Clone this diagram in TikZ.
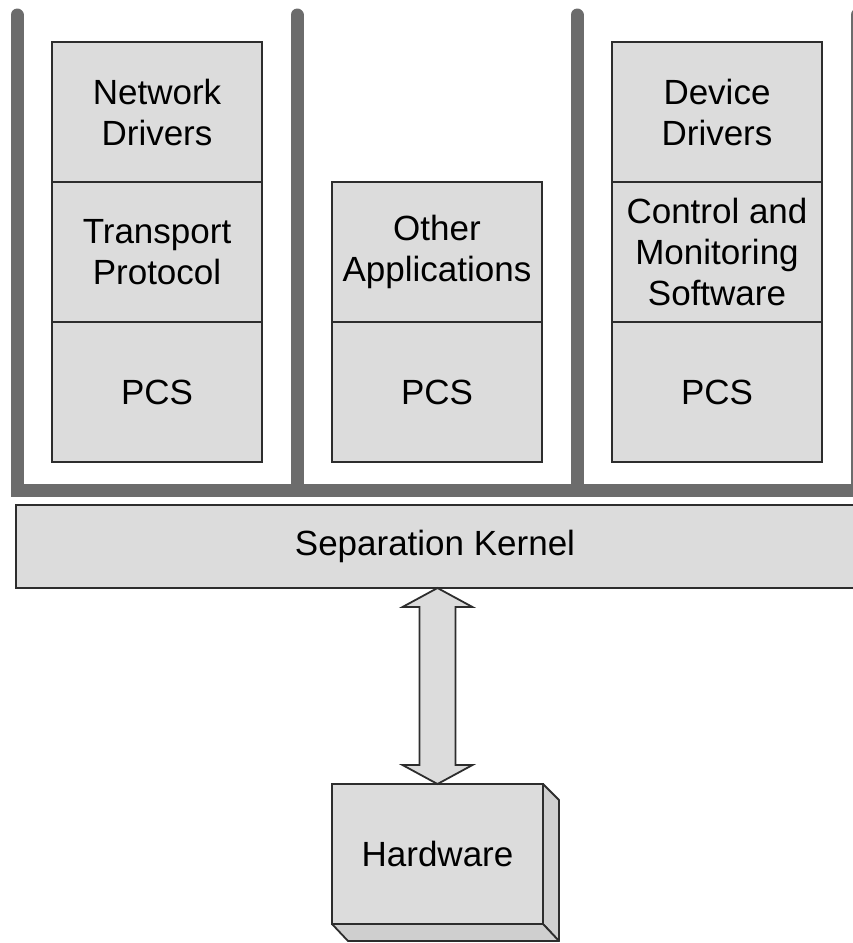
\documentclass[tikz,border=0pt]{standalone}
\usepackage{fontspec}
\setmainfont{Liberation Sans}
\usepackage{tikz}
\usetikzlibrary{positioning,calc}
\definecolor{boxfill}{RGB}{220,220,220}
\definecolor{edgecol}{RGB}{45,45,45}
\definecolor{barcol}{RGB}{108,108,108}

\begin{document}
\begin{tikzpicture}[x=1pt,y=-1pt,
  layer/.style={draw=edgecol,fill=boxfill,line width=1.8pt,minimum width=210pt,minimum height=140pt,inner sep=0pt,outer sep=0pt,align=center,font=\fontsize{35}{41}\selectfont},
  bar/.style={draw=barcol,line width=13pt,line cap=round,line join=miter},
  dblarr/.style={draw=edgecol,fill=boxfill,line width=1.8pt,line join=miter},
  hwface/.style={draw=edgecol,fill=boxfill!94!black,line width=1.8pt,line join=round}]
  \useasboundingbox (0,0) rectangle (853,943);
  % partition walls
  \draw[bar] (17,15) -- (17,490) -- (857,490);
  \foreach \x in {297,577,857}{\draw[bar] (\x,15) -- (\x,490);}
  % partitions
  \node[layer] (net) at (157,112) {Network\\Drivers};
  \node[layer,below=0pt of net] (trans) {Transport\\Protocol};
  \node[layer,below=0pt of trans] (pcsa) {PCS};
  \node[layer] (other) at (437,252) {Other\\Applications};
  \node[layer,below=0pt of other] (pcsb) {PCS};
  \node[layer] (dev) at (717,112) {Device\\Drivers};
  \node[layer,below=0pt of dev] (ctrl) {Control and\\Monitoring\\Software};
  \node[layer,below=0pt of ctrl] (pcsc) {PCS};
  % kernel and hardware
  \node[layer,minimum width=838pt,minimum height=83pt] (kernel) at (435,546.5) {Separation Kernel};
  \node[layer,minimum width=211pt] (hw) at (437.5,854) {Hardware};
  \draw[hwface] (hw.north east) -- ++(16,16) -- ($(hw.south east)+(16,17)$) -- (hw.south east) -- cycle;
  \draw[hwface] (hw.south west) -- ++(16,17) -- ($(hw.south east)+(16,17)$) -- (hw.south east) -- cycle;
  \coordinate (ktip) at (kernel.south -| hw.north);
  \draw[dblarr] (ktip) -- ++(35,19) -- ++(-17,0) -- ($(hw.north)+(18,-19)$) -- ++(17,0)
    -- (hw.north) -- ++(-35,-19) -- ++(17,0) -- ($(ktip)+(-18,19)$) -- ++(-17,0) -- cycle;
\end{tikzpicture}
\end{document}
